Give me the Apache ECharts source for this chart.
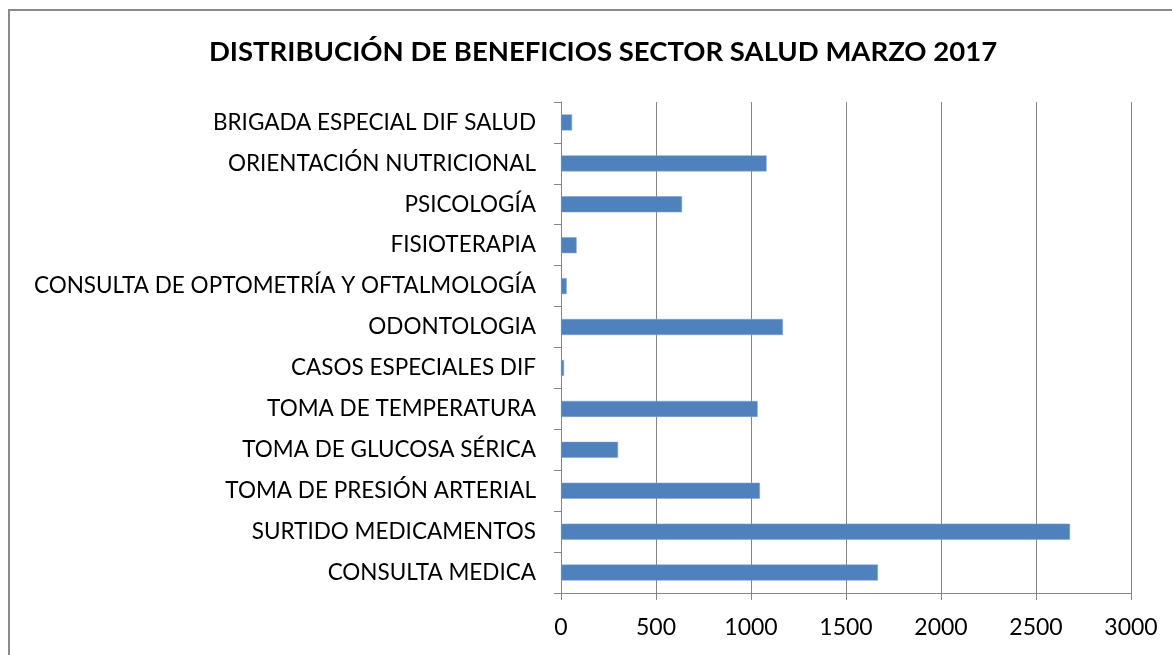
<!DOCTYPE html>
<html>
<head>
<meta charset="utf-8">
<script src="https://cdn.jsdelivr.net/npm/echarts@6/dist/echarts.min.js"></script>
<style>
  html, body { margin: 0; padding: 0; background: #fff; }
  #frame {
    position: absolute; left: 8px; top: 9px; width: 1200px; height: 700px;
    border-left: 2px solid #8a8a8a; border-top: 2px solid #8a8a8a;
  }
  #chart { position: absolute; left: 0; top: 0; width: 1172px; height: 655px; }
</style>
</head>
<body>
<div id="frame"></div>
<div id="chart"></div>
<script>
// 类别（自下而上）
const categories = [
  'CONSULTA MEDICA',
  'SURTIDO MEDICAMENTOS',
  'TOMA DE PRESIÓN ARTERIAL',
  'TOMA DE GLUCOSA SÉRICA',
  'TOMA DE TEMPERATURA',
  'CASOS ESPECIALES DIF',
  'ODONTOLOGIA',
  'CONSULTA DE OPTOMETRÍA Y OFTALMOLOGÍA',
  'FISIOTERAPIA',
  'PSICOLOGÍA',
  'ORIENTACIÓN NUTRICIONAL',
  'BRIGADA ESPECIAL DIF SALUD'
];
const values = [1668, 2679, 1047, 300, 1035, 16, 1168, 30, 82, 637, 1082, 58];
const xTicks = [0, 500, 1000, 1500, 2000, 2500, 3000];

const FONT = 'Lato';
const chart = echarts.init(document.getElementById('chart'));
chart.setOption({
  animation: false,
  title: {
    text: 'DISTRIBUCIÓN DE BENEFICIOS SECTOR SALUD MARZO 2017',
    left: 598, top: 33, textAlign: 'center',
    textStyle: { fontFamily: FONT, fontSize: 27.5, fontWeight: 'bold', color: '#000' }
  },
  grid: { left: 561, right: 41, top: 102, bottom: 62 },
  xAxis: {
    type: 'value',
    min: xTicks[0],
    max: xTicks[xTicks.length - 1],
    interval: 500,
    axisLine: { show: true, lineStyle: { color: '#868686', width: 1 } },
    axisTick: { show: true, length: 7, lineStyle: { color: '#868686' } },
    splitLine: { show: true, lineStyle: { color: '#868686', width: 1 } },
    axisLabel: { fontFamily: FONT, fontSize: 23, color: '#000', margin: 23, formatter: v => String(v) }
  },
  yAxis: {
    type: 'category',
    data: categories,
    axisLine: { show: true, lineStyle: { color: '#868686', width: 1 } },
    axisTick: { show: true, length: 7, lineStyle: { color: '#868686' } },
    axisLabel: { fontFamily: FONT, fontSize: 22.5, color: '#000', margin: 25 }
  },
  series: [{
    type: 'bar',
    data: values,
    barWidth: 16,
    itemStyle: { color: '#4f81bd', borderColor: '#7fa3d0', borderWidth: 0.5 }
  }]
});
</script>
</body>
</html>
